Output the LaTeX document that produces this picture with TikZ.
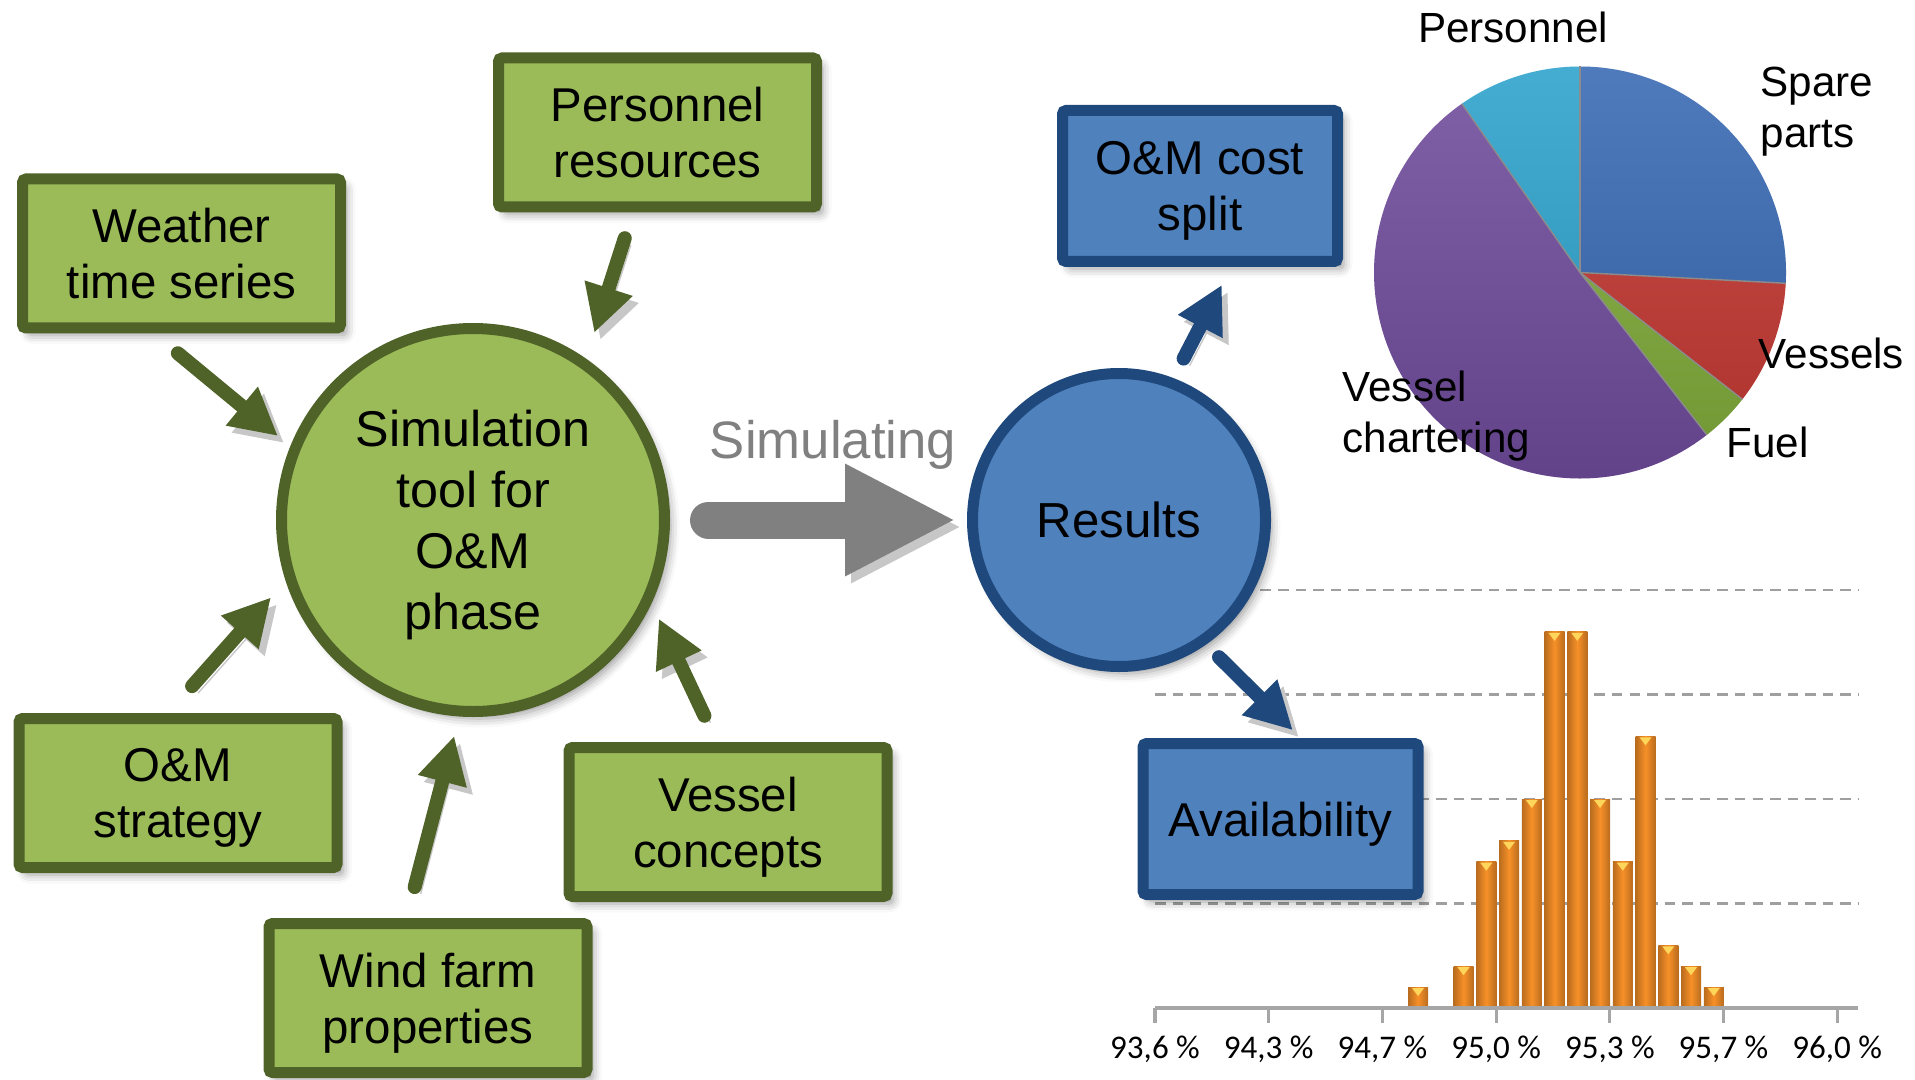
\documentclass[tikz,border=0pt]{standalone}
\usepackage{fontspec}
\setmainfont{Liberation Sans}
\newfontfamily\axisfont{Carlito}
\usetikzlibrary{arrows.meta,shadows.blur}

\definecolor{olivefill}{RGB}{155,187,89}
\definecolor{olivedark}{RGB}{79,98,40}
\definecolor{bluefill}{RGB}{79,129,189}
\definecolor{bluedark}{RGB}{31,73,125}
\definecolor{arrowgray}{RGB}{128,128,128}
\definecolor{sliceblue}{RGB}{55,104,178}
\definecolor{slicered}{RGB}{196,56,50}
\definecolor{slicegreen}{RGB}{128,172,58}
\definecolor{slicepurple}{RGB}{112,76,156}
\definecolor{slicecyan}{RGB}{44,162,204}
\definecolor{barorange}{RGB}{247,144,40}
\definecolor{bartop}{RGB}{255,214,90}

\tikzset{
  softshadow/.style={blur shadow={shadow xshift=0.6mm, shadow yshift=-0.7mm, shadow blur radius=0.9mm, shadow opacity=40}},
  inputbox/.style={draw=olivedark, fill=olivefill, line width=1.1mm, rounded corners=1pt,
    minimum width=3.18cm, minimum height=1.49cm, align=center, text depth=0pt,
    font=\fontsize{13.5}{16}\selectfont, softshadow},
  resultbox/.style={inputbox, draw=bluedark, fill=bluefill, minimum width=2.75cm, minimum height=1.51cm},
  simtool/.style={circle, draw=olivedark, fill=olivefill, line width=1.1mm, minimum size=3.83cm,
    align=center, text depth=0pt, font=\fontsize{14.3}{17.4}\selectfont, softshadow},
  outcome/.style={simtool, draw=bluedark, fill=bluefill, minimum size=2.93cm, font=\fontsize{14}{17}\selectfont},
  arrowshadow/.style={preaction={draw=black!22, transform canvas={shift={(0.6mm,-0.7mm)}}}},
  feed/.style={draw=olivedark, line width=1.4mm, line cap=round, -{Triangle[length=4.7mm,width=4.7mm]}, arrowshadow},
  outflow/.style={feed, draw=bluedark},
  pielabel/.style={anchor=west, inner sep=0pt, align=left, text depth=0pt, font=\fontsize{12}{14.4}\selectfont},
}

\begin{document}
\begin{tikzpicture}
  \useasboundingbox (0,0) rectangle (19.15,10.79);

  % histogram grid
  \foreach \j in {1,...,4}
    \draw[gray!75, line width=0.8pt, dash pattern=on 3pt off 2pt] (11.55,0.71+1.045*\j) -- (18.58,0.71+1.045*\j);

  % bars
  \foreach \h [count=\k from 0] in {0.2,0,0.4,1.4,1.6,2.0,3.6,3.6,2.0,1.4,2.6,0.6,0.4,0.2} {
    \ifdim\h pt>0pt
      \shade[left color=barorange!75!black, right color=barorange!75!black, middle color=barorange]
        (14.08+0.2275*\k,0.71) rectangle ++(0.2,1.045*\h);
      \fill[bartop] (14.12+0.2275*\k,0.70+1.045*\h) -- ++(0.12,0) -- ++(-0.06,-0.08) -- cycle;
    \fi
  }

  % axis
  \draw[gray!70, line width=0.9pt] (11.55,0.71) -- (18.58,0.71);
  \foreach \t [count=\i from 0] in {{93,6},{94,3},{94,7},{95,0},{95,3},{95,7},{96,0}} {
    \draw[gray!70, line width=0.9pt] (11.55+1.137*\i,0.71) -- ++(0,-0.15);
    \node[font=\axisfont\fontsize{9.4}{11}\selectfont] (tick\i) at (11.55+1.137*\i,0.30) {\t{} \%};
  }

  % pie
  \coordinate (pie) at (15.80,8.065);
  \foreach \a/\b/\c in {90/-3/sliceblue, -3/-38/slicered, -38/-52/slicegreen, -52/-235/slicepurple, 125/90/slicecyan}
    \fill[\c] (pie) -- ++(\a:2.06) arc[start angle=\a, end angle=\b, radius=2.06] -- cycle;
  \shade[top color=white, bottom color=black, opacity=0.12] (pie) circle (2.06);
  \foreach \a in {90,-3,-38,-52,125}
    \draw[black!45, line width=0.4pt] (pie) -- ++(\a:2.06);

  \node[font=\fontsize{12}{14.4}\selectfont] (lblpers) at (15.13,10.52) {Personnel};
  \node[pielabel] (lblspare) at (17.60,9.72) {Spare\\parts};
  \node[pielabel] (lblvess) at (17.58,7.26) {Vessels};
  \node[pielabel] (lblfuel) at (17.26,6.37) {Fuel};
  \node[pielabel] (lblchart) at (13.42,6.67) {Vessel\\chartering};

  % inputs
  \node[inputbox] (weather) at (1.815,8.255) {Weather\\time series};
  \node[inputbox] (personnel) at (6.575,9.465) {Personnel\\resources};
  \node[inputbox] (strategy) at (1.78,2.86) {O\&M\\strategy};
  \node[inputbox] (windfarm) at (4.28,0.81) {Wind farm\\properties};
  \node[inputbox] (vessels) at (7.28,2.57) {Vessel\\concepts};
  \node[simtool] (sim) at (4.73,5.59) {Simulation\\tool for\\O\&M\\phase};

  % outputs
  \node[outcome] (res) at (11.19,5.59) {Results};
  \node[resultbox] (costsplit) at (12.00,8.93) {O\&M cost\\split};
  \node[resultbox] (avail) at (12.805,2.60) {Availability};

  \draw[feed, shorten <=3.1mm, shorten >=1.6mm] (weather.251) -- (sim.158);
  \draw[feed, shorten <=2.7mm, shorten >=2.7mm] (personnel.253) -- (sim.55);
  \draw[feed, shorten <=3.6mm, shorten >=2.2mm] (strategy.97) -- (sim.198);
  \draw[feed, shorten <=3.2mm, shorten >=2mm] (windfarm.105) -- (sim.266);
  \draw[feed, shorten <=2.9mm, shorten >=1.7mm] (vessels.98) -- (sim.335);

  \draw[arrowgray, line width=3.7mm, line cap=round, -{Triangle[length=11.1mm,width=10.4mm]}, arrowshadow,
    shorten <=3.85mm, shorten >=1.1mm] (sim) -- (res);
  \node[text=arrowgray, font=\fontsize{15}{18}\selectfont] (simlabel) at (8.33,6.34) {Simulating};

  \draw[outflow, shorten <=2.2mm, shorten >=2mm] (res.69) -- (costsplit.291);
  \draw[outflow, shorten <=1.8mm, shorten >=1.1mm] (res.305) -- (avail.76);
\end{tikzpicture}
\end{document}
